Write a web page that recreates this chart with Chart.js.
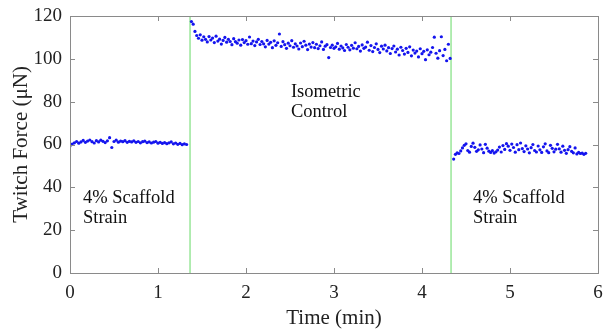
<!DOCTYPE html>
<html>
<head>
<meta charset="utf-8">
<script src="https://cdn.jsdelivr.net/npm/chart.js@4"></script>
<style>
html,body{margin:0;padding:0;background:#fff;}
#wrap{width:604px;height:332px;position:relative;}
</style>
</head>
<body>
<div id="wrap"><canvas id="c" width="604" height="332"></canvas></div>
<script>
// ---- Data ----
const xTicks = [0, 1, 2, 3, 4, 5, 6];
const yTicks = [0, 20, 40, 60, 80, 100, 120];

// Segment 1: 4% scaffold strain
const t1 = [0,0.025,0.05,0.075,0.1,0.125,0.15,0.175,0.2,0.225,
  0.25,0.275,0.3,0.325,0.35,0.375,0.4,0.425,0.45,0.475,
  0.5,0.525,0.55,0.575,0.6,0.625,0.65,0.675,0.7,0.725,
  0.75,0.775,0.8,0.825,0.85,0.875,0.9,0.925,0.95,0.975,
  1,1.025,1.05,1.075,1.1,1.125,1.15,1.175,1.2,1.225,
  1.25,1.275,1.3,1.325];
const f1 = [59.3,60.2,60.8,61.4,60.6,61.2,61.9,61.0,61.6,62.1,
  61.3,60.7,61.8,61.2,62.0,61.5,60.9,61.7,63.2,58.6,
  61.4,62.0,61.1,61.6,61.3,61.8,61.0,61.5,61.2,61.7,
  61.0,61.4,60.8,61.3,61.6,60.9,61.2,60.7,61.1,61.4,
  60.6,61.0,60.5,60.9,60.4,60.8,61.2,60.3,60.7,60.1,
  60.5,59.9,60.3,60.0];

// Segment 2: isometric control
const t2 = [1.38,1.40,1.42,1.44,1.46,1.48,1.50,1.52,1.54,1.56,
  1.58,1.60,1.62,1.64,1.66,1.68,1.70,1.72,1.74,1.76,
  1.78,1.80,1.82,1.84,1.86,1.88,1.90,1.92,1.94,1.96,
  1.98,2.00,2.02,2.04,2.06,2.08,2.10,2.12,2.14,2.16,
  2.18,2.20,2.22,2.24,2.26,2.28,2.30,2.32,2.34,2.36,
  2.38,2.40,2.42,2.44,2.46,2.48,2.50,2.52,2.54,2.56,
  2.58,2.60,2.62,2.64,2.66,2.68,2.70,2.72,2.74,2.76,
  2.78,2.80,2.82,2.84,2.86,2.88,2.90,2.92,2.94,2.96,
  2.98,3.00,3.02,3.04,3.06,3.08,3.10,3.12,3.14,3.16,
  3.18,3.20,3.22,3.24,3.26,3.28,3.30,3.32,3.34,3.36,
  3.38,3.40,3.42,3.44,3.46,3.48,3.50,3.52,3.54,3.56,
  3.58,3.60,3.62,3.64,3.66,3.68,3.70,3.72,3.74,3.76,
  3.78,3.80,3.82,3.84,3.86,3.88,3.90,3.92,3.94,3.96,
  3.98,4.00,4.02,4.04,4.06,4.08,4.10,4.12,4.14,4.16,
  4.18,4.20,4.22,4.24,4.26,4.28,4.30,4.32];
const f2 = [117.4,116.2,112.8,110.9,109.6,111.2,108.7,110.3,109.1,107.9,
  110.4,108.8,109.7,107.6,110.6,108.3,109.2,106.9,108.6,110.0,
  107.8,109.1,108.1,106.6,109.4,108.0,107.3,108.8,106.4,109.0,
  107.6,108.5,106.8,110.2,107.1,108.3,106.2,107.9,109.1,106.7,
  108.1,107.0,105.6,108.6,106.9,107.7,105.2,108.4,106.3,107.5,
  111.6,105.8,108.0,106.6,104.9,107.3,106.1,108.5,105.4,107.0,
  106.0,104.6,107.4,105.7,108.2,106.4,104.3,106.9,105.5,107.6,
  105.2,106.8,104.8,106.1,107.9,104.4,105.9,106.6,100.6,105.3,
  106.4,104.9,105.6,107.2,104.5,106.0,105.1,103.9,106.7,105.4,
  104.2,106.3,105.0,107.5,104.7,105.8,103.6,106.5,104.9,105.5,
  107.8,104.0,106.2,103.4,105.3,107.0,104.4,102.9,105.9,104.6,
  106.4,103.7,105.2,102.5,104.8,106.0,103.2,104.5,101.8,105.4,
  103.9,102.2,104.9,103.0,105.6,101.4,104.1,102.7,103.6,100.9,
  104.7,102.4,103.5,99.6,104.2,101.9,103.1,105.3,110.1,102.6,
  100.3,103.8,110.3,101.5,104.4,99.1,106.8,100.2];

// Segment 3: 4% scaffold strain
const t3 = [4.36,4.38,4.40,4.42,4.44,4.46,4.48,4.50,4.52,4.54,
  4.56,4.58,4.60,4.62,4.64,4.66,4.68,4.70,4.72,4.74,
  4.76,4.78,4.80,4.82,4.84,4.86,4.88,4.90,4.92,4.94,
  4.96,4.98,5.00,5.02,5.04,5.06,5.08,5.10,5.12,5.14,
  5.16,5.18,5.20,5.22,5.24,5.26,5.28,5.30,5.32,5.34,
  5.36,5.38,5.40,5.42,5.44,5.46,5.48,5.50,5.52,5.54,
  5.56,5.58,5.60,5.62,5.64,5.66,5.68,5.70,5.72,5.74,
  5.76,5.78,5.80,5.82,5.84,5.86];
const f3 = [53.2,55.4,56.1,55.8,57.0,58.4,59.6,60.3,57.2,56.4,
  59.1,60.6,58.7,56.8,57.5,59.8,57.9,56.2,60.1,58.3,
  56.9,56.3,57.1,56.0,56.6,57.4,58.8,56.5,59.5,57.7,
  60.4,59.2,57.3,60.2,58.6,56.4,59.9,57.6,60.7,58.1,
  56.7,59.4,57.9,56.1,58.5,60.0,57.2,56.5,59.3,57.5,
  56.3,58.9,60.3,57.0,56.2,59.6,58.2,56.6,57.8,60.1,
  58.0,56.4,59.2,57.3,55.9,57.6,59.0,56.8,56.1,58.4,
  55.6,56.3,55.8,56.0,55.4,55.9];

// Protocol switch times (green markers)
const switchTimes = [1.364, 4.33];

// Annotation texts and anchor positions (data units)
const notes = [
  {lines: ["4% Scaffold", "Strain"], x: 0.148, y: [35.0, 25.4]},
  {lines: ["Isometric", "Control"], x: 2.51, y: [84.5, 75.2]},
  {lines: ["4% Scaffold", "Strain"], x: 4.58, y: [35.0, 25.7]}
];

// ---- Build ----
const pts = (t, f) => t.map((v, i) => ({x: v, y: f[i]}));
const allPts = pts(t1, f1).concat(pts(t2, f2), pts(t3, f3));
const FONT = "'Liberation Serif','Times New Roman',serif";
const AXC = '#8a8a8a';

const lineSets = switchTimes.map(s => ({
  type: 'line',
  data: [{x: s, y: 0}, {x: s, y: 120}],
  borderColor: '#7fe07f',
  borderWidth: 1.2,
  pointRadius: 0,
  fill: false,
  order: 2
}));

const boxPlugin = {
  id: 'boxTicks',
  afterDraw(chart) {
    const {ctx, chartArea: a, scales: {x, y}} = chart;
    ctx.save();
    ctx.strokeStyle = AXC;
    ctx.lineWidth = 1;
    ctx.strokeRect(Math.round(a.left) + 0.5, Math.round(a.top) + 0.5,
      Math.round(a.right - a.left), Math.round(a.bottom - a.top));
    const L = 5;
    ctx.beginPath();
    xTicks.forEach(v => {
      const px = Math.round(x.getPixelForValue(v)) + 0.5;
      ctx.moveTo(px, a.bottom); ctx.lineTo(px, a.bottom - L);
      ctx.moveTo(px, a.top); ctx.lineTo(px, a.top + L);
    });
    yTicks.forEach(v => {
      const py = Math.round(y.getPixelForValue(v)) + 0.5;
      ctx.moveTo(a.left, py); ctx.lineTo(a.left + L, py);
      ctx.moveTo(a.right, py); ctx.lineTo(a.right - L, py);
    });
    ctx.stroke();
    ctx.fillStyle = '#111';
    ctx.font = "18.5px " + FONT;
    ctx.textBaseline = 'middle';
    ctx.textAlign = 'left';
    notes.forEach(n => {
      n.lines.forEach((s, i) => {
        ctx.fillText(s, x.getPixelForValue(n.x), y.getPixelForValue(n.y[i]));
      });
    });
    ctx.restore();
  }
};

new Chart(document.getElementById('c'), {
  type: 'scatter',
  data: {
    datasets: [{
      data: allPts,
      backgroundColor: '#1414ee',
      borderWidth: 0,
      pointRadius: 1.6,
      order: 1
    }].concat(lineSets)
  },
  options: {
    responsive: false,
    animation: false,
    events: [],
    layout: {padding: {top: 16, right: 6, left: 0, bottom: 0}},
    plugins: {legend: {display: false}, tooltip: {enabled: false}},
    scales: {
      x: {
        type: 'linear', min: 0, max: 6,
        afterBuildTicks: s => { s.ticks = xTicks.map(v => ({value: v})); },
        afterFit: s => { s.height = 59; s.paddingLeft = 0; s.paddingRight = 0; },
        grid: {display: true, drawOnChartArea: false, drawTicks: false},
        border: {display: true, color: AXC},
        ticks: {font: {family: FONT, size: 19}, color: '#222', padding: 9, maxRotation: 0},
        title: {display: true, text: 'Time (min)', font: {family: FONT, size: 21}, color: '#222', padding: {top: 0, bottom: 1}}
      },
      y: {
        type: 'linear', min: 0, max: 120,
        afterBuildTicks: s => { s.ticks = yTicks.map(v => ({value: v})); },
        afterFit: s => { s.width = 70; s.paddingTop = 0; s.paddingBottom = 0; },
        grid: {display: true, drawOnChartArea: false, drawTicks: false},
        border: {display: true, color: AXC},
        ticks: {font: {family: FONT, size: 19}, color: '#222', padding: 8},
        title: {display: true, text: 'Twitch Force (μN)', font: {family: FONT, size: 21}, color: '#222', padding: {top: 9, bottom: 0}}
      }
    }
  },
  plugins: [boxPlugin]
});
</script>
</body>
</html>
